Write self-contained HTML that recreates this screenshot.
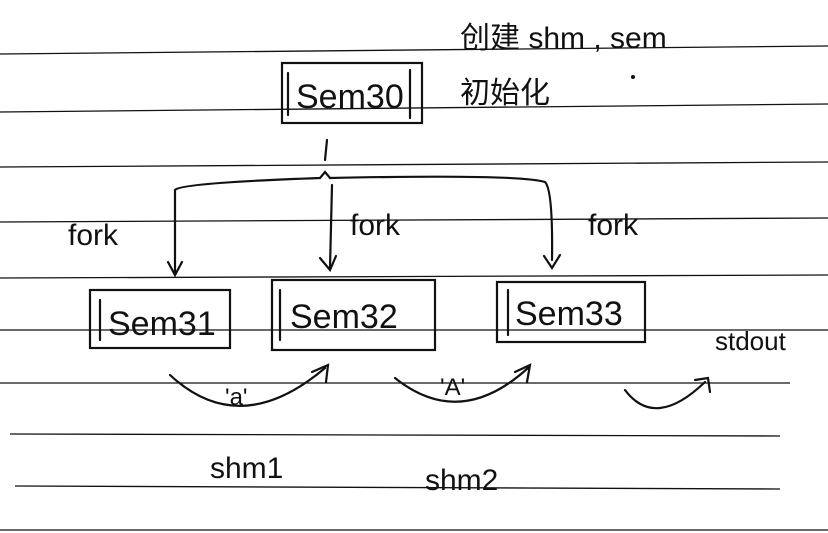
<!DOCTYPE html>
<html><head><meta charset="utf-8"><style>
html,body{margin:0;padding:0;background:#fff;width:828px;height:533px;overflow:hidden}
svg text{font-family:"Liberation Sans","Noto Sans CJK SC",sans-serif;fill:#111}
</style></head><body>
<svg width="828" height="533" viewBox="0 0 828 533" xmlns="http://www.w3.org/2000/svg">
<g stroke="#111" stroke-width="1.3" fill="none">
<line x1="0" y1="54" x2="828" y2="46"/>
<line x1="0" y1="112" x2="828" y2="104"/>
<line x1="0" y1="167" x2="828" y2="162"/>
<line x1="0" y1="222" x2="828" y2="218"/>
<line x1="0" y1="278" x2="828" y2="275"/>
<line x1="0" y1="330" x2="828" y2="330"/>
<line x1="0" y1="383" x2="790" y2="383"/>
<line x1="10" y1="434" x2="780" y2="436"/>
<line x1="15" y1="486" x2="780" y2="489"/>
<line x1="0" y1="530" x2="828" y2="530"/>
</g>
<g stroke="#111" stroke-width="2.2" fill="none" stroke-linecap="round">
<!-- Sem30 box -->
<rect x="282" y="63" width="140" height="60"/>
<line x1="288" y1="73" x2="288" y2="115"/>
<line x1="410" y1="70" x2="410" y2="118"/>
<!-- tree -->
<line x1="327" y1="140" x2="325" y2="160"/>
<path d="M175 190 Q180 183 320 178 L325 172 L330 178 Q520 174 545 182 Q553 190 552 260"/>
<line x1="175" y1="190" x2="175" y2="272"/>
<path d="M168 262 L175 275 L182 262"/>
<line x1="332" y1="185" x2="330" y2="268"/>
<path d="M320 258 L330 270 L336 256"/>
<path d="M544 256 L552 268 L560 255"/>
<!-- Sem31 -->
<rect x="90" y="290" width="140" height="58"/>
<line x1="100" y1="300" x2="100" y2="340"/>
<!-- Sem32 -->
<rect x="272" y="280" width="163" height="70"/>
<line x1="280" y1="290" x2="280" y2="340"/>
<!-- Sem33 -->
<rect x="497" y="282" width="148" height="60"/>
<line x1="508" y1="290" x2="508" y2="335"/>
<!-- arcs -->
<path d="M170 375 Q240 440 325 368"/>
<path d="M312 372 L328 365 L326 382"/>
<path d="M395 378 Q460 430 528 368"/>
<path d="M515 372 L530 365 L527 382"/>
<path d="M625 390 Q655 430 705 382"/>
<path d="M695 380 L708 378 L710 392"/>
</g>
<g font-size="34">
<text x="296" y="108">Sem30</text>
<text x="108" y="335">Sem31</text>
<text x="290" y="328">Sem32</text>
<text x="515" y="325">Sem33</text>
</g>
<g font-size="30">
<text x="460" y="48">创建 shm , sem</text>
<text x="460" y="103">初始化</text>
<text x="68" y="245">fork</text>
<text x="350" y="235">fork</text>
<text x="588" y="235">fork</text>
<text x="715" y="350" font-size="26">stdout</text>
<text x="225" y="405" font-size="24">'a'</text>
<text x="440" y="395" font-size="24">'A'</text>
<text x="210" y="478">shm1</text>
<text x="425" y="490">shm2</text>
</g>
<circle cx="633" cy="77" r="2" fill="#111"/>
</svg>
</body></html>
